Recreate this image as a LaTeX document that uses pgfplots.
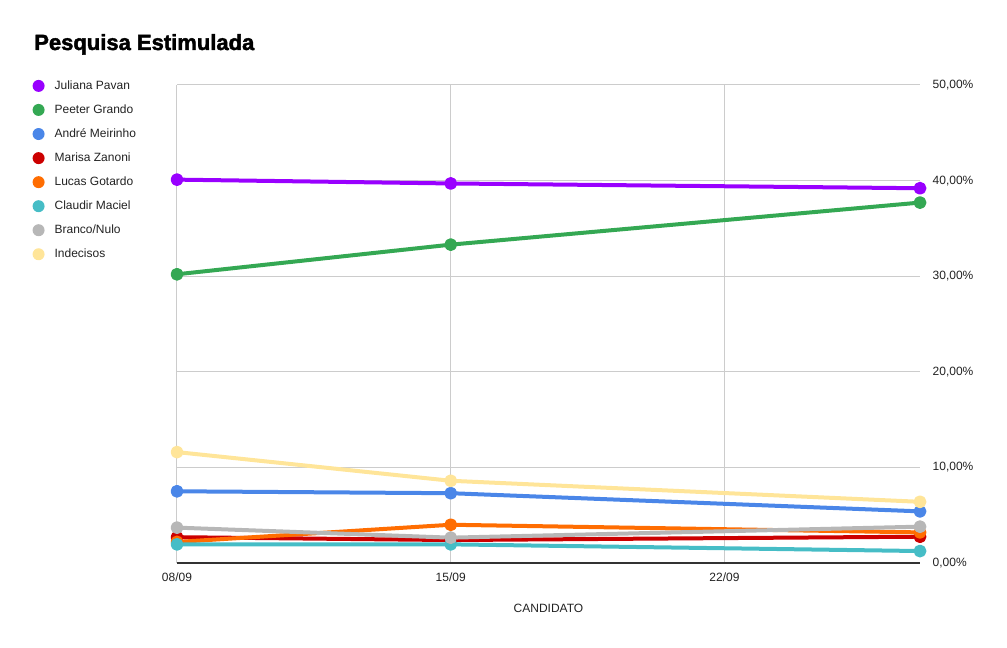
\documentclass[border=0pt]{standalone}
\usepackage{pgfplots}
\pgfplotsset{compat=1.18}
\usepackage{fontspec}
\setmainfont{Liberation Sans}
\newfontfamily\heavyfont[FakeBold=2]{Liberation Sans Bold}

\definecolor{cJuliana}{HTML}{9900FF}
\definecolor{cPeeter}{HTML}{34A853}
\definecolor{cAndre}{HTML}{4A86E8}
\definecolor{cMarisa}{HTML}{CC0000}
\definecolor{cLucas}{HTML}{FF6D01}
\definecolor{cClaudir}{HTML}{46BDC6}
\definecolor{cBranco}{HTML}{B7B7B7}
\definecolor{cIndecisos}{HTML}{FFE599}
\definecolor{gridgray}{HTML}{CCCCCC}
\definecolor{txt}{HTML}{222222}

\begin{document}
\begin{tikzpicture}
  \begin{axis}[
      at={(0pt,0pt)}, anchor=south west,
      scale only axis,
      width=557.25pt, height=358.5pt,
      xmin=8, xmax=27, ymin=0, ymax=50,
      axis x line*=bottom, axis y line*=right,
      x axis line style={draw=black!80, line width=1pt},
      y axis line style={draw=none},
      xtick={8,15,22}, xticklabels={08/09,15/09,22/09},
      ytick={0,10,...,50},
      xtick style={draw=none}, ytick style={draw=none},
      xmajorgrids, ymajorgrids,
      grid style={gridgray, line width=0.75pt},
      /pgf/number format/assume math mode=true,
      yticklabel={\pgfmathprintnumber[fixed,fixed zerofill,precision=2,use comma]{\tick}\%},
      tick label style={font=\fontsize{9}{11}\selectfont, text=txt},
      yticklabel style={xshift=6pt},
      xticklabel style={yshift=-4pt},
      xlabel={CANDIDATO},
      xlabel style={at={(axis description cs:0.5,0)}, anchor=center, yshift=-33.75pt,
        font=\fontsize{9}{11}\selectfont, text=txt},
      every axis plot/.append style={line width=3pt, mark=*, mark size=3.3pt,
        mark options={draw=none}, line join=round},
      legend image code/.code={\fill[#1, draw=none] (4.5pt,0pt) circle (4.5pt);
        \path[draw=none, fill=none] (0pt,0pt) -- (15pt,0pt);},
      legend cell align=left,
      legend style={at={(axis description cs:-0.2001,1.0196)}, anchor=north west,
        draw=none, fill=none, font=\fontsize{9}{11}\selectfont, text=txt,
        row sep=7pt, nodes={inner sep=1.5pt}},
    ]
    \addplot[cJuliana]   coordinates {(8,40.1) (15,39.7) (27,39.2)};
    \addlegendentry{Juliana Pavan}
    \addplot[cPeeter]    coordinates {(8,30.2) (15,33.3) (27,37.7)};
    \addlegendentry{Peeter Grando}
    \addplot[cAndre]     coordinates {(8,7.5) (15,7.3) (27,5.4)};
    \addlegendentry{André Meirinho}
    \addplot[cMarisa]    coordinates {(8,2.7) (15,2.4) (27,2.75)};
    \addlegendentry{Marisa Zanoni}
    \addplot[cLucas]     coordinates {(8,2.2) (15,4.0) (27,3.2)};
    \addlegendentry{Lucas Gotardo}
    \addplot[cClaudir]   coordinates {(8,1.95) (15,1.95) (27,1.25)};
    \addlegendentry{Claudir Maciel}
    \addplot[cBranco]    coordinates {(8,3.7) (15,2.65) (27,3.8)};
    \addlegendentry{Branco/Nulo}
    \addplot[cIndecisos] coordinates {(8,11.6) (15,8.6) (27,6.4)};
    \addlegendentry{Indecisos}
  \end{axis}
  \node[anchor=base west, font=\fontsize{16.5}{18}\selectfont\heavyfont, inner sep=0pt]
    at (-107.25pt,384.75pt) {Pesquisa Estimulada};
  \path[use as bounding box] (-132.75pt,-63.75pt) rectangle (622.5pt,422.25pt);
\end{tikzpicture}
\end{document}
